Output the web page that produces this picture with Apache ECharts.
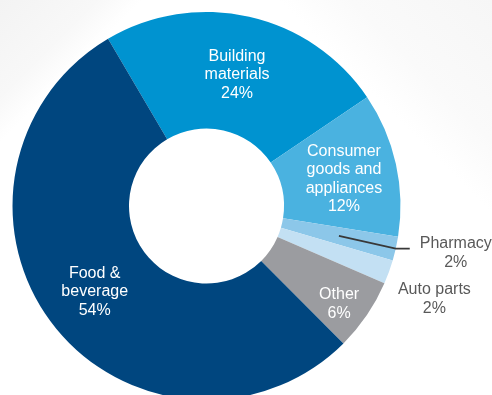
<!DOCTYPE html>
<html>
<head>
<meta charset="utf-8">
<script src="https://cdn.jsdelivr.net/npm/echarts@6/dist/echarts.min.js"></script>
<style>
  html, body { margin: 0; padding: 0; width: 492px; height: 395px; overflow: hidden; }
  body {
    background:
      linear-gradient(135deg, #f3f3f3 0%, #f8f8f8 11%, rgba(255,255,255,0) 16%),
      linear-gradient(225deg, #f6f6f6 0%, #fafafa 16%, rgba(255,255,255,0) 24%),
      #ffffff;
  }
  #chart { width: 492px; height: 395px; }
</style>
</head>
<body>
<div id="chart"></div>
<script>
// End-market split, listed clockwise starting at the top-left seam
const categories = ['Building materials', 'Consumer goods and appliances', 'Pharmacy', 'Auto parts', 'Other', 'Food & beverage'];
const labelNames = ['Building\nmaterials', 'Consumer\ngoods and\nappliances', 'Pharmacy', 'Auto parts', 'Other', 'Food &\nbeverage'];
const shares = [24, 12, 2, 2, 6, 54];

// Styling
const sliceColors = {
  'Building materials': '#0093d0',
  'Consumer goods and appliances': '#4ab2e0',
  'Pharmacy': '#8cc7e9',
  'Auto parts': '#c3e0f3',
  'Other': '#9b9ca0',
  'Food & beverage': '#00467f'
};
// 'inside' labels sit in the ring; 'plain' is outside without a line; 'leader' is outside with a line
const labelMode = { 'Pharmacy': 'leader', 'Auto parts': 'plain' };
const labelShift = {
  'Building materials': [0, 4],
  'Consumer goods and appliances': [2, 3],
  'Food & beverage': [-2, 1],
  'Other': [18, 20],
  'Auto parts': [4, 27]
};

const CX = 206.5, CY = 206, R_IN = 77.5, R_OUT = 194;
const R_MID = (R_IN + R_OUT) / 2;
const START = 120.5;
const FONT = '"Liberation Sans", Arial, Helvetica, sans-serif';
const GREY_TEXT = '#595959';

function outsideLabel(i, distance, padTop) {
  return {
    show: true,
    position: 'outside',
    distanceToLabelLine: distance,
    padding: [padTop, 0, 0, 0],
    formatter: '{c|' + labelNames[i] + '}\n{c|' + shares[i] + '%}',
    rich: {
      c: { align: 'center', fontSize: 16, lineHeight: 19, color: GREY_TEXT, fontFamily: FONT }
    }
  };
}

// Coloured ring with the inside labels and the line-free outside label
const ringData = categories.map(function (name, i) {
  const mode = labelMode[name] || 'inside';
  const item = { name: name, value: shares[i], itemStyle: { color: sliceColors[name] } };
  if (mode === 'plain') {
    item.label = outsideLabel(i, 5, 0);
    item.labelLine = { show: false, length: 0, length2: 0 };
  } else if (mode === 'leader') {
    item.label = { show: false };
    item.labelLine = { show: false };
  } else {
    item.labelLine = { show: false };
  }
  return item;
});

// Transparent inner ring drawn above the coloured one:
// its outside label line starts at the ring's mid radius
const leaderData = categories.map(function (name, i) {
  const mode = labelMode[name] || 'inside';
  const item = { name: name, value: shares[i] };
  if (mode === 'leader') {
    item.label = outsideLabel(i, 10, 8);
    item.labelLine = {
      show: true,
      length: R_OUT - R_MID,
      length2: 14,
      lineStyle: { color: '#383838', width: 1.8 }
    };
  } else {
    item.label = { show: false };
    item.labelLine = { show: false };
  }
  return item;
});

const chart = echarts.init(document.getElementById('chart'), null, { renderer: 'canvas' });
chart.setOption({
  animation: false,
  backgroundColor: 'transparent',
  series: [{
    type: 'pie',
    z: 2,
    center: [CX, CY],
    radius: [R_IN, R_OUT],
    startAngle: START,
    clockwise: true,
    avoidLabelOverlap: false,
    itemStyle: { borderWidth: 0 },
    emphasis: { disabled: true },
    label: {
      show: true,
      position: 'inside',
      color: '#ffffff',
      fontFamily: FONT,
      fontSize: 16,
      lineHeight: 18.5,
      align: 'center',
      formatter: function (p) {
        return labelNames[p.dataIndex] + '\n' + p.value + '%';
      }
    },
    labelLayout: function (p) {
      const shift = labelShift[categories[p.dataIndex]] || [0, 0];
      return { dx: shift[0], dy: shift[1] };
    },
    data: ringData
  }, {
    type: 'pie',
    z: 5,
    silent: true,
    center: [CX, CY],
    radius: [R_IN, R_MID],
    startAngle: START,
    clockwise: true,
    avoidLabelOverlap: false,
    itemStyle: { color: 'rgba(0,0,0,0)', borderWidth: 0 },
    emphasis: { disabled: true },
    labelLine: { minTurnAngle: 0, maxSurfaceAngle: 180 },
    data: leaderData
  }]
});
</script>
</body>
</html>
